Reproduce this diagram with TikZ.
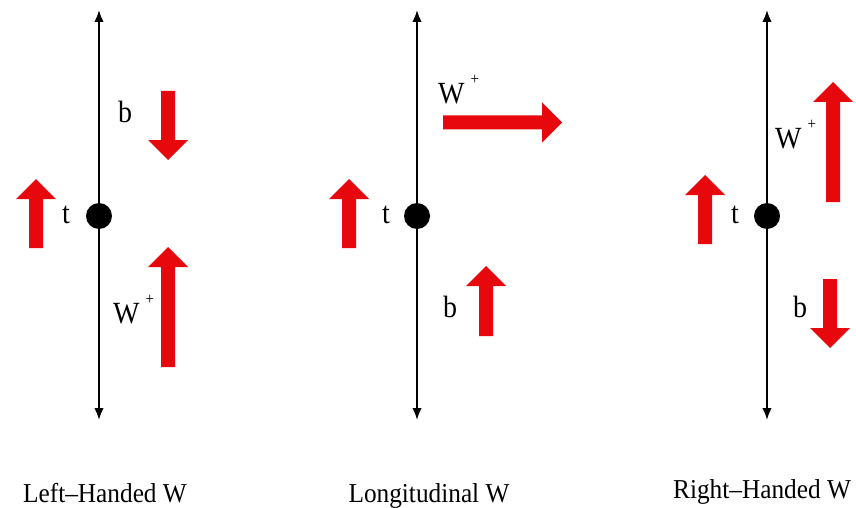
\documentclass[tikz,border=0pt]{standalone}
\usepackage{fontspec}
\setmainfont{Liberation Serif}
\usetikzlibrary{arrows.meta}
\definecolor{arrowred}{RGB}{230,8,12}
\tikzset{
  axisline/.style={line width=1.8pt, {Latex[length=12pt,width=9.5pt]}-{Latex[length=12pt,width=9.5pt]}},
  vertex/.style={circle, fill=black, minimum size=26pt, inner sep=0pt},
  lbl/.style={font=\fontsize{28}{28}\selectfont, inner sep=0pt, anchor=base west, yscale=1.1},
  caption/.style={font=\fontsize{25.3}{25.3}\selectfont, inner sep=0pt, anchor=base, yscale=1.08},
  pics/blockarrow/.style={code={
    \fill[arrowred] (0,-7) -- ({#1-20},-7) -- ({#1-20},-20) -- (#1,0) -- ({#1-20},20) -- ({#1-20},7) -- (0,7) -- cycle;
  }}
}
\newcommand{\wplus}{W\hspace{6pt}\raisebox{17pt}{\fontsize{15}{15}\selectfont +}}
\begin{document}
\begin{tikzpicture}[x=1pt,y=-1pt]
\useasboundingbox (0,0) rectangle (856,508);
% ---------- Left-handed ----------
\coordinate (ltop) at (99,10);
\coordinate (lbot) at (99,420);
\draw[axisline] (ltop) -- (lbot);
\node[vertex] (ldot) at (99,216) {};
\pic[rotate=90] at (36,248) {blockarrow=69};
\pic[rotate=-90] at (168,91) {blockarrow=69};
\pic[rotate=90] at (168,367) {blockarrow=120};
\node[lbl] (lt) at (62,223) {t};
\node[lbl] (lb) at (118,123) {b};
\node[lbl] (lw) at (113,323) {\wplus};
\node[caption] (lcap) at (105,502) {Left–Handed W};
% ---------- Longitudinal ----------
\coordinate (mtop) at (417,10);
\coordinate (mbot) at (417,420);
\draw[axisline] (mtop) -- (mbot);
\node[vertex] (mdot) at (417,216) {};
\pic[rotate=90] at (349,248) {blockarrow=69};
\pic at (443,122.5) {blockarrow=119};
\pic[rotate=90] at (486,336) {blockarrow=70};
\node[lbl] (mt) at (382,223) {t};
\node[lbl] (mb) at (443,317) {b};
\node[lbl] (mw) at (438,103) {\wplus};
\node[caption] (mcap) at (429,502) {Longitudinal W};
% ---------- Right-handed ----------
\coordinate (rtop) at (767,10);
\coordinate (rbot) at (767,420);
\draw[axisline] (rtop) -- (rbot);
\node[vertex] (rdot) at (767,216) {};
\pic[rotate=90] at (705,244) {blockarrow=69};
\pic[rotate=90] at (833,202) {blockarrow=120};
\pic[rotate=-90] at (830,279) {blockarrow=69};
\node[lbl] (rt) at (731,223) {t};
\node[lbl] (rb) at (793,317) {b};
\node[lbl] (rw) at (775,148) {\wplus};
\node[caption] (rcap) at (762,498) {Right–Handed W};
\end{tikzpicture}
\end{document}
